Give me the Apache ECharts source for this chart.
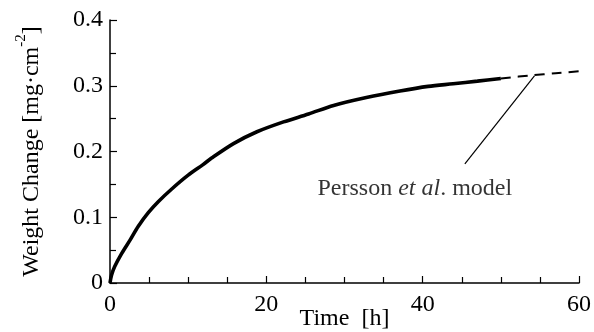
<!DOCTYPE html>
<html>
<head>
<meta charset="utf-8">
<script src="https://cdn.jsdelivr.net/npm/echarts@6/dist/echarts.min.js"></script>
<style>
  html, body { margin: 0; padding: 0; background: #fff; }
  #chart { width: 594px; height: 332px; }
</style>
</head>
<body>
<div id="chart"></div>
<script>
// Measured weight change (solid curve)
const timeH = [0, 0.2, 0.6, 1.5, 2.6, 3.6, 4.9, 6.2, 7.9, 10, 11.9, 13, 15.8, 18.8, 22.2, 25.4, 28.6, 32.8, 37.1, 40.7, 43.9, 47, 50];
const weightChange = [0, 0.012, 0.025, 0.045, 0.066, 0.086, 0.107, 0.124, 0.143, 0.164, 0.18, 0.19, 0.212, 0.23, 0.245, 0.257, 0.27, 0.282, 0.292, 0.299, 0.303, 0.307, 0.311];
// Persson et al. model extrapolation (dashed)
const modelTime = [50, 54, 57, 60];
const modelWeight = [0.311, 0.316, 0.319, 0.322];
// Annotation
const annotationText = ['Persson ', 'et al', '. model'];
const annotationAt = [39.0, 0.143];
const leaderFrom = [54.3, 0.315];
const leaderTo = [45.4, 0.181];
// Axes
const xTicks = [0, 20, 40, 60];
const yTicks = [0, 0.1, 0.2, 0.3, 0.4];

const FONT = 'Liberation Serif';
const chart = echarts.init(document.getElementById('chart'), null, { renderer: 'canvas' });

chart.setOption({
  animation: false,
  backgroundColor: '#fff',
  grid: { left: 110, right: 15, top: 20, bottom: 49, containLabel: false, outerBoundsMode: 'none' },
  xAxis: {
    type: 'value',
    min: xTicks[0], max: xTicks[xTicks.length - 1], interval: 20,
    name: 'Time  [h]',
    nameLocation: 'middle',
    nameGap: 24,
    nameMoveOverlap: false,
    nameTextStyle: { fontFamily: FONT, fontSize: 24, color: '#000' },
    axisLine: { show: true, lineStyle: { color: '#000', width: 1.5 } },
    axisTick: { show: true, inside: true, length: 7, lineStyle: { color: '#000', width: 1.2 } },
    minorTick: { show: true, splitNumber: 4, length: 6, lineStyle: { color: '#000', width: 1.2 } },
    axisLabel: { fontFamily: FONT, fontSize: 24, color: '#000', margin: 10 },
    splitLine: { show: false },
    minorSplitLine: { show: false }
  },
  yAxis: {
    type: 'value',
    min: yTicks[0], max: yTicks[yTicks.length - 1], interval: 0.1,
    name: '{n|Weight Change [mg·cm}{s|-2}{n|]}',
    nameLocation: 'middle',
    nameGap: 66,
    nameRotate: 90,
    nameMoveOverlap: false,
    nameTextStyle: {
      fontFamily: FONT, fontSize: 24, color: '#000',
      rich: {
        n: { fontFamily: FONT, fontSize: 24, color: '#000', lineHeight: 30, verticalAlign: 'bottom' },
        s: { fontFamily: FONT, fontSize: 15, color: '#000', lineHeight: 30, verticalAlign: 'top' }
      }
    },
    axisLine: { show: true, lineStyle: { color: '#000', width: 1.5 } },
    axisTick: { show: true, inside: true, length: 7, lineStyle: { color: '#000', width: 1.2 } },
    minorTick: { show: true, splitNumber: 2, length: 6, lineStyle: { color: '#000', width: 1.2 } },
    axisLabel: { fontFamily: FONT, fontSize: 24, color: '#000', margin: 7 },
    splitLine: { show: false },
    minorSplitLine: { show: false }
  },
  series: [
    {
      type: 'line',
      data: timeH.map((t, i) => [t, weightChange[i]]),
      symbol: 'none',
      smooth: 0.3,
      lineStyle: { color: '#000', width: 3.6 },
      z: 3
    },
    {
      type: 'line',
      data: modelTime.map((t, i) => [t, modelWeight[i]]),
      symbol: 'none',
      smooth: 0.3,
      lineStyle: { color: '#000', width: 2, type: [10, 7] },
      markLine: {
        silent: true,
        symbol: ['none', 'none'],
        label: { show: false },
        lineStyle: { color: '#000', width: 1.2, type: 'solid' },
        data: [[{ coord: leaderFrom }, { coord: leaderTo }]]
      },
      z: 2
    },
    {
      type: 'scatter',
      data: [annotationAt],
      symbolSize: 0,
      silent: true,
      label: {
        show: true,
        position: 'inside',
        formatter: '{n|' + annotationText[0] + '}{i|' + annotationText[1] + '}{n|' + annotationText[2] + '}',
        rich: {
          n: { fontFamily: FONT, fontSize: 24, color: '#000' },
          i: { fontFamily: FONT, fontSize: 24, color: '#000', fontStyle: 'italic' }
        }
      }
    }
  ]
});
</script>
</body>
</html>
